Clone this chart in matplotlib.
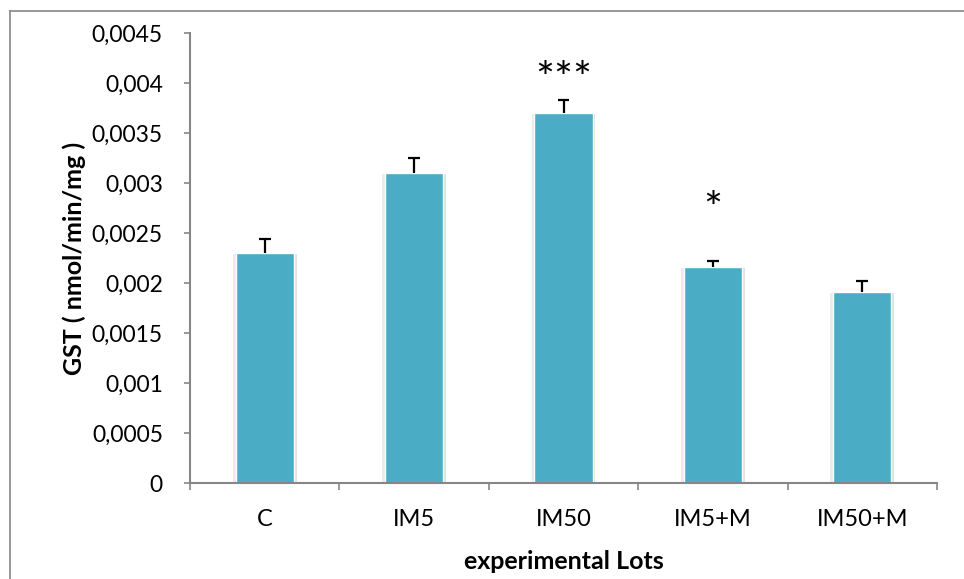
import matplotlib
matplotlib.use("Agg")
import matplotlib.pyplot as plt
import matplotlib.patheffects as pe
from matplotlib.lines import Line2D
from matplotlib.ticker import FixedLocator, FuncFormatter

plt.rcParams['font.family'] = ['Lato', 'DejaVu Sans']

lots = ["C", "IM5", "IM50", "IM5+M", "IM50+M"]
gst = [0.0023, 0.0031, 0.0037, 0.00216, 0.00191]
gst_err = [0.00014, 0.00015, 0.00013, 0.000065, 0.00011]
stars = ["", "", "***", "*", ""]
star_y = [None, None, 0.00403, 0.00272, None]
yticks = [0, 0.0005, 0.001, 0.0015, 0.002, 0.0025, 0.003, 0.0035, 0.004, 0.0045]

bar_color = "#4BACC6"
axis_color = "#868686"

fig = plt.figure(figsize=(9.64, 5.79), dpi=100)
ax = fig.add_axes([190 / 964, 1 - 483 / 579, (937 - 190) / 964, (483 - 33) / 579])

x = list(range(len(lots)))
shadow = [pe.SimplePatchShadow(offset=(2, -1), shadow_rgbFace="#000000", alpha=0.12),
          pe.SimplePatchShadow(offset=(-2, -1), shadow_rgbFace="#000000", alpha=0.08),
          pe.Normal()]
bars = ax.bar(x, gst, width=0.39, color=bar_color, edgecolor="white", linewidth=1.0, zorder=2)
for b in bars:
    b.set_path_effects(shadow)

# upper error bars only: stem from the bar top plus a cap
tops = [g + e for g, e in zip(gst, gst_err)]
cap = 0.04
ax.vlines(x, gst, tops, color="black", linewidth=1.6, zorder=3)
ax.hlines(tops, [xi - cap for xi in x], [xi + cap for xi in x], color="black",
          linewidth=1.6, zorder=3)

for xi, s, sy in zip(x, stars, star_y):
    if s:
        ax.text(xi, sy, s, ha="center", va="center", fontsize=32, color="black")

ax.set_xlim(-0.5, len(lots) - 0.5)
ax.set_ylim(0, 0.0045)
ax.set_yticks(yticks)
ax.yaxis.set_major_formatter(FuncFormatter(
    lambda v, p: "0" if v == 0 else ("%g" % round(v, 5)).replace(".", ",")))

ax.set_xticks(x)
ax.set_xticklabels(lots)
ax.xaxis.set_minor_locator(FixedLocator([i - 0.5 for i in range(len(lots) + 1)]))
ax.tick_params(axis="x", which="major", length=0, pad=19, labelsize=17)
ax.tick_params(axis="x", which="minor", length=5, width=1.2, color=axis_color, direction="out")
ax.tick_params(axis="y", length=4.5, width=1.2, color=axis_color, labelsize=16.5, pad=15)

for side in ["top", "right"]:
    ax.spines[side].set_visible(False)
for side in ["left", "bottom"]:
    ax.spines[side].set_color(axis_color)
    ax.spines[side].set_linewidth(1.5)

ax.set_xlabel("experimental Lots", fontsize=18, fontweight="bold", labelpad=14)
ax.set_ylabel("GST ( nmol/min/mg )", fontsize=18, fontweight="bold", labelpad=4)

# outer chart frame (top and left edges)
fig.add_artist(Line2D([10 / 964, 1.0], [1 - 11 / 579, 1 - 11 / 579], transform=fig.transFigure,
                      color=axis_color, linewidth=1.2))
fig.add_artist(Line2D([10 / 964, 10 / 964], [0, 1 - 11 / 579], transform=fig.transFigure,
                      color=axis_color, linewidth=1.2))

fig.savefig("out.png", dpi=100)
